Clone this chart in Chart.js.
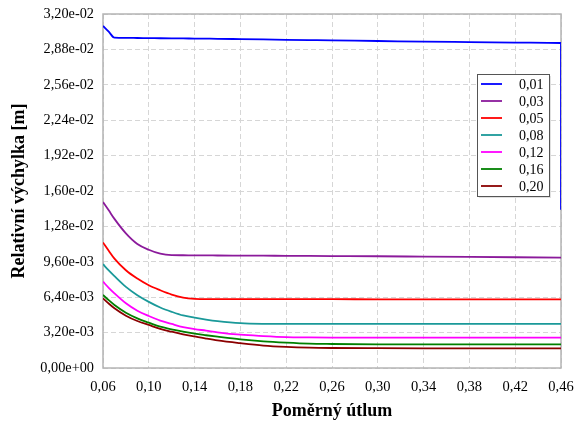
<!DOCTYPE html>
<html lang="cs">
<head>
<meta charset="UTF-8">
<title>Relativní výchylka</title>
<script src="https://cdn.jsdelivr.net/npm/chart.js"></script>
<style>
    body { margin: 0; background: #fff; }
    #wrap { width: 580px; height: 425px; }
</style>
</head>
<body>
<div id="wrap"><canvas id="chart" width="580" height="425"></canvas></div>
<script>
// pomerny utlum (x)
const damping = [0.06, 0.065, 0.07, 0.08, 0.09, 0.10, 0.11, 0.12, 0.13, 0.14, 0.15, 0.16,
                 0.18, 0.20, 0.22, 0.24, 0.26, 0.30, 0.34, 0.38, 0.42, 0.46];

const seriesLabels = ['0,01', '0,03', '0,05', '0,08', '0,12', '0,16', '0,20'];
const seriesColors = ['#0000ff', '#8b1a9b', '#ff0000', '#1a9999', '#ff00ff', '#008000', '#8b0000'];

const s001 = [0.03092, 0.03040, 0.02986, 0.02984, 0.02983, 0.02982, 0.02981, 0.02980, 0.02979, 0.02978, 0.02977, 0.02976,
              0.02973, 0.02970, 0.02967, 0.02964, 0.02961, 0.02956, 0.02950, 0.02946, 0.02942, 0.02938];
const s001Drop = 0.0143; // svisly pad na konci krivky 0,01
const s003 = [0.01500, 0.01425, 0.01348, 0.01217, 0.01121, 0.01069, 0.01033, 0.01020, 0.01019, 0.01018, 0.01018, 0.01017,
              0.01016, 0.01015, 0.01014, 0.01013, 0.01012, 0.01010, 0.01007, 0.01004, 0.01001, 0.00998];
const s005 = [0.01134, 0.01060, 0.00989, 0.00884, 0.00809, 0.00748, 0.00703, 0.00664, 0.00637, 0.00625, 0.00622, 0.00622,
              0.00622, 0.00622, 0.00622, 0.00622, 0.00622, 0.00621, 0.00621, 0.00621, 0.00621, 0.00620];
const s008 = [0.00938, 0.00882, 0.00830, 0.00733, 0.00658, 0.00598, 0.00547, 0.00508, 0.00475, 0.00455, 0.00438, 0.00424,
              0.00405, 0.00399, 0.00398, 0.00398, 0.00398, 0.00398, 0.00398, 0.00398, 0.00398, 0.00398];
const s012 = [0.00780, 0.00725, 0.00675, 0.00585, 0.00518, 0.00470, 0.00428, 0.00398, 0.00370, 0.00352, 0.00338, 0.00323,
              0.00301, 0.00289, 0.00280, 0.00277, 0.00275, 0.00274, 0.00274, 0.00274, 0.00274, 0.00274];
const s016 = [0.00660, 0.00613, 0.00570, 0.00500, 0.00449, 0.00410, 0.00373, 0.00350, 0.00328, 0.00310, 0.00296, 0.00283,
              0.00259, 0.00241, 0.00229, 0.00220, 0.00217, 0.00214, 0.00213, 0.00213, 0.00213, 0.00213];
const s020 = [0.00630, 0.00583, 0.00540, 0.00473, 0.00425, 0.00389, 0.00353, 0.00328, 0.00305, 0.00285, 0.00266, 0.00249,
              0.00224, 0.00203, 0.00191, 0.00184, 0.00181, 0.00179, 0.00178, 0.00178, 0.00178, 0.00178];

const allSeries = [s001, s003, s005, s008, s012, s016, s020];

const yTickStep = 0.0032;
const xTickStep = 0.04;

function toPoints(ys) {
    return ys.map((v, i) => ({ x: damping[i], y: v }));
}

const datasets = allSeries.map((ys, i) => {
    const pts = toPoints(ys);
    if (i === 0) pts.push({ x: damping[damping.length - 1], y: s001Drop });
    return {
        label: seriesLabels[i],
        data: pts,
        borderColor: seriesColors[i],
        backgroundColor: seriesColors[i],
        borderWidth: 1.8,
        pointRadius: 0,
        cubicInterpolationMode: 'monotone',
        fill: false
    };
});

function fmtExp(v) {
    if (Math.abs(v) < 1e-12) return '0,00e+00';
    let s = v.toExponential(2);
    let [m, e] = s.split('e');
    let sign = e[0];
    let num = e.slice(1).padStart(2, '0');
    return m.replace('.', ',') + 'e' + sign + num;
}

// ramecek kolem grafu
const framePlugin = {
    id: 'frame',
    beforeDatasetsDraw(chart) {
        const a = chart.chartArea;
        const ctx = chart.ctx;
        ctx.save();
        ctx.setLineDash([]);
        ctx.strokeStyle = '#b4b4b4';
        ctx.lineWidth = 1.5;
        ctx.strokeRect(a.left, a.top, a.right - a.left, a.bottom - a.top);
        ctx.restore();
    }
};

// legenda uvnitr grafu
const boxLegend = {
    id: 'boxLegend',
    afterDraw(chart) {
        const a = chart.chartArea;
        const ctx = chart.ctx;
        const w = 72, rowH = 17;
        const h = 122;
        const left = a.right - 12 - w;
        const top = a.top + 60;
        ctx.save();
        ctx.fillStyle = 'rgba(0,0,0,0.12)';
        ctx.fillRect(left + 2, top + 2, w, h);
        ctx.fillStyle = '#fff';
        ctx.fillRect(left, top, w, h);
        ctx.strokeStyle = '#555';
        ctx.lineWidth = 1;
        ctx.strokeRect(left + 0.5, top + 0.5, w, h);
        ctx.font = '14px "Liberation Serif", serif';
        ctx.textBaseline = 'middle';
        ctx.textAlign = 'left';
        chart.data.datasets.forEach((ds, i) => {
            const y = top + 10 + i * rowH;
            ctx.strokeStyle = ds.borderColor;
            ctx.lineWidth = 1.8;
            ctx.beginPath();
            ctx.moveTo(left + 4, y);
            ctx.lineTo(left + 25, y);
            ctx.stroke();
            ctx.fillStyle = '#000';
            ctx.fillText(ds.label, left + 42, y + 1);
        });
        ctx.restore();
    }
};

function noScalePadding(scale) {
    scale.paddingLeft = 0;
    scale.paddingRight = 0;
    scale.paddingTop = 0;
    scale.paddingBottom = 0;
}

new Chart(document.getElementById('chart'), {
    type: 'line',
    data: { datasets },
    plugins: [framePlugin, boxLegend],
    options: {
        responsive: false,
        animation: false,
        layout: { padding: { left: 0, right: 19, top: 14, bottom: 0 } },
        plugins: { legend: { display: false }, tooltip: { enabled: false } },
        scales: {
            x: {
                type: 'linear',
                min: 0.06,
                max: 0.46,
                ticks: {
                    stepSize: xTickStep,
                    color: '#000',
                    padding: 10,
                    font: { family: '"Liberation Serif", serif', size: 14.5 },
                    callback: v => v.toFixed(2).replace('.', ',')
                },
                grid: { color: '#d6d6d6', lineWidth: 1, drawTicks: false },
                border: { display: false, dash: [5, 3] },
                title: {
                    display: true,
                    text: 'Poměrný útlum',
                    color: '#000',
                    padding: { top: 0, bottom: 3 },
                    font: { family: '"Liberation Serif", serif', size: 18, weight: 'bold' }
                },
                afterFit(scale) { scale.height = 57; noScalePadding(scale); }
            },
            y: {
                min: 0,
                max: 0.032,
                ticks: {
                    stepSize: yTickStep,
                    color: '#000',
                    padding: 9,
                    font: { family: '"Liberation Serif", serif', size: 14.3 },
                    callback: v => fmtExp(v)
                },
                grid: { color: '#d6d6d6', lineWidth: 1, drawTicks: false },
                border: { display: false, dash: [5, 3] },
                title: {
                    display: true,
                    text: 'Relativní výchylka [m]',
                    color: '#000',
                    padding: { top: 9, bottom: 0 },
                    font: { family: '"Liberation Serif", serif', size: 18, weight: 'bold' }
                },
                afterFit(scale) { scale.width = 103; noScalePadding(scale); }
            }
        }
    }
});
</script>
</body>
</html>
